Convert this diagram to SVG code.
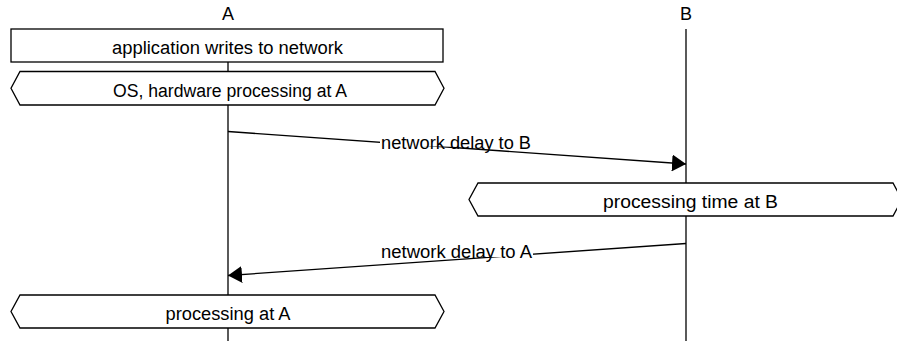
<svg xmlns="http://www.w3.org/2000/svg" width="897" height="341" viewBox="0 0 897 341">
  <style>
    text { font-family: "Liberation Sans", Arial, Helvetica, sans-serif; font-size: 18px; fill: #000; text-anchor: middle; }
    .label { text-anchor: start; }
    .lifeline { stroke: #000; stroke-width: 1.3; fill: none; }
    .box { fill: #fff; stroke: #000; stroke-width: 1.3; }
    .msg { stroke: #000; stroke-width: 1.3; fill: none; marker-end: url(#arrow); }
    .bg { fill: #fff; stroke: none; }
  </style>
  <defs>
    <marker id="arrow" viewBox="0 0 14 17" refX="14" refY="8.5" markerWidth="14" markerHeight="17" markerUnits="userSpaceOnUse" orient="auto">
      <path d="M0,0 L14,8.5 L0,17 z" fill="#000"/>
    </marker>
  </defs>

  <!-- participants -->
  <g id="participant-A">
    <text x="228" y="19.5">A</text>
    <line class="lifeline" x1="228" y1="29" x2="228" y2="341"/>
  </g>
  <g id="participant-B">
    <text x="686" y="19.5">B</text>
    <line class="lifeline" x1="686" y1="29" x2="686" y2="341"/>
  </g>

  <!-- activity boxes -->
  <g id="app-writes">
    <rect class="box" x="11" y="29" width="432" height="33"/>
    <text x="227.5" y="53.5" textLength="231" lengthAdjust="spacingAndGlyphs">application writes to network</text>
  </g>
  <g id="os-processing-A">
    <polygon class="box" points="20,71.5 435,71.5 444,88.3 435,105 20,105 11,88.3"/>
    <text x="230" y="96.5" textLength="234" lengthAdjust="spacingAndGlyphs">OS, hardware processing at A</text>
  </g>
  <g id="processing-B">
    <polygon class="box" points="478,183 893,183 902,199.5 893,216 478,216 469,199.5"/>
    <text x="690.5" y="207.5" textLength="175" lengthAdjust="spacingAndGlyphs">processing time at B</text>
  </g>
  <g id="processing-A">
    <polygon class="box" points="20,295 435,295 444,311.5 435,328 20,328 11,311.5"/>
    <text x="228" y="320" textLength="125" lengthAdjust="spacingAndGlyphs">processing at A</text>
  </g>

  <!-- messages -->
  <g id="connectors">
    <g id="msg-A-to-B">
      <line class="msg" x1="228" y1="131.5" x2="686" y2="164"/>
      <rect class="bg" x="380" y="135" width="153" height="11.5"/>
      <text class="label" x="381" y="149" textLength="150" lengthAdjust="spacingAndGlyphs">network delay to B</text>
    </g>
    <g id="msg-B-to-A">
      <line class="msg" x1="686" y1="243.5" x2="228" y2="275.5"/>
      <rect class="bg" x="380" y="244" width="153" height="13"/>
      <text class="label" x="381" y="258" textLength="151" lengthAdjust="spacingAndGlyphs">network delay to A</text>
    </g>
  </g>
</svg>
